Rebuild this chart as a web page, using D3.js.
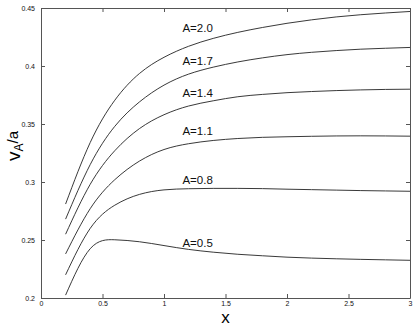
<!DOCTYPE html>
<meta charset="utf-8">
<script src="https://cdn.jsdelivr.net/npm/d3@7"></script>
<style>
  body { margin: 0; background: #fff; }
  text { font-family: "Liberation Sans", Arial, Helvetica, sans-serif; }
</style>
<div id="my_dataviz"></div>
<script>

var xs = [0.2, 0.4, 0.6, 0.8, 1.0, 1.2, 1.4, 1.6, 1.8, 2.0, 2.2, 2.4, 2.6, 2.8, 3.0];

// v_A/a for each A
var a20 = [0.281, 0.334, 0.3705, 0.3935, 0.4075, 0.417, 0.4238, 0.429, 0.4332, 0.4368, 0.4398, 0.4423, 0.4442, 0.4457, 0.447];
var a17 = [0.268, 0.315, 0.348, 0.369, 0.3835, 0.393, 0.399, 0.4035, 0.407, 0.4098, 0.4118, 0.4133, 0.4145, 0.4153, 0.416];
var a14 = [0.255, 0.298, 0.327, 0.346, 0.358, 0.3655, 0.370, 0.3735, 0.3755, 0.377, 0.378, 0.3788, 0.3794, 0.3798, 0.380];
var a11 = [0.238, 0.277, 0.302, 0.318, 0.328, 0.333, 0.3358, 0.3375, 0.3385, 0.339, 0.3394, 0.3397, 0.3398, 0.3397, 0.3395];
var a08 = [0.220, 0.260, 0.280, 0.2893, 0.2932, 0.2942, 0.2945, 0.2945, 0.2943, 0.2938, 0.2934, 0.2930, 0.2926, 0.2923, 0.292];
var a05 = [0.2025, 0.2425, 0.2502, 0.2485, 0.2452, 0.2419, 0.2395, 0.2377, 0.2364, 0.2352, 0.2344, 0.2338, 0.2333, 0.2329, 0.2325];

var series = [a20, a17, a14, a11, a08, a05];
var labels = ["A=2.0", "A=1.7", "A=1.4", "A=1.1", "A=0.8", "A=0.5"];
// label anchor (data units)
var labelX = 1.15;
var labelY = [0.4295, 0.4008, 0.3736, 0.3404, 0.2981, 0.2442];

var xTicks = [0, 0.5, 1, 1.5, 2, 2.5, 3];
var yTicks = [0.2, 0.25, 0.3, 0.35, 0.4, 0.45];

var margin = {top: 8, right: 5, bottom: 34, left: 41},
    width = 415 - margin.left - margin.right,
    height = 332 - margin.top - margin.bottom;

var svg = d3.select("#my_dataviz")
  .append("svg")
    .attr("width", 415)
    .attr("height", 332)
  .append("g")
    .attr("transform", "translate(" + margin.left + "," + margin.top + ")");

var x = d3.scaleLinear().domain([0, 3]).range([0, width]);
var y = d3.scaleLinear().domain([0.2, 0.45]).range([height, 0]);

var fmt = function(d) { return String(d); };

// axes, ticks pointing inward like matlab
svg.append("g")
  .attr("transform", "translate(0," + height + ")")
  .call(d3.axisBottom(x).tickValues(xTicks).tickFormat(fmt).tickSizeInner(-4).tickSizeOuter(0).tickPadding(3));
svg.append("g")
  .call(d3.axisTop(x).tickValues(xTicks).tickFormat("").tickSizeInner(-4).tickSizeOuter(0));
svg.append("g")
  .call(d3.axisLeft(y).tickValues(yTicks).tickFormat(fmt).tickSizeInner(-4).tickSizeOuter(0).tickPadding(6));
svg.append("g")
  .attr("transform", "translate(" + width + ",0)")
  .call(d3.axisRight(y).tickValues(yTicks).tickFormat("").tickSizeInner(-4).tickSizeOuter(0));

svg.selectAll(".domain").attr("stroke", "#555");
svg.selectAll(".tick line").attr("stroke", "#555");
svg.selectAll(".tick text").attr("font-size", 7).attr("fill", "#111")
  .style("font-family", "Liberation Sans, Arial, sans-serif");

// curves
var line = d3.line()
  .x(function(d) { return x(d[0]); })
  .y(function(d) { return y(d[1]); })
  .curve(d3.curveNatural);

svg.selectAll("path.curve")
  .data(series)
  .enter()
  .append("path")
    .attr("class", "curve")
    .attr("fill", "none")
    .attr("stroke", "#222")
    .attr("stroke-width", 0.9)
    .attr("d", function(s) { return line(s.map(function(v, i) { return [xs[i], v]; })); });

svg.selectAll("text.lab")
  .data(labels)
  .enter()
  .append("text")
    .attr("class", "lab")
    .attr("x", x(labelX))
    .attr("y", function(d, i) { return y(labelY[i]); })
    .attr("font-size", 11.5)
    .attr("fill", "#111")
    .text(function(d) { return d; });

// axis titles
svg.append("text")
  .attr("x", width / 2)
  .attr("y", height + 25)
  .attr("text-anchor", "middle")
  .attr("font-size", 17)
  .text("x");

var yl = svg.append("text")
  .attr("transform", "translate(" + (20 - margin.left) + "," + (146 - margin.top) + ") rotate(-90)")
  .attr("text-anchor", "middle")
  .attr("font-size", 19);
yl.append("tspan").text("v");
yl.append("tspan").attr("font-size", 12).attr("dy", 3).text("A");
yl.append("tspan").attr("font-size", 15).attr("dy", -5).text("/a");

</script>
